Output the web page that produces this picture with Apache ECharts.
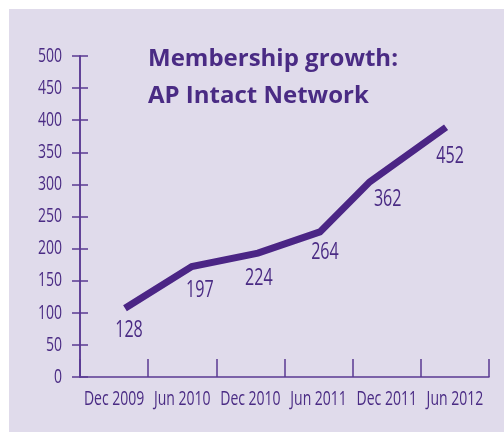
<!DOCTYPE html>
<html>
<head>
<meta charset="utf-8">
<script src="https://cdn.jsdelivr.net/npm/echarts@6/dist/echarts.min.js"></script>
<style>
html,body{margin:0;padding:0;background:#ffffff;}
#chart{width:504px;height:432px;}
</style>
</head>
<body>
<div id="chart"></div>
<script>
// ---- data ----
const categories = ['Dec 2009', 'Jun 2010', 'Dec 2010', 'Jun 2011', 'Dec 2011', 'Jun 2012'];
// line vertex positions along the time axis, in category units from the left axis
const timePos = [0.66, 1.64, 2.61, 3.52, 4.25, 5.37];
// plotted heights as read against the y scale
const plotted = [107, 172, 193, 226, 304, 389];
// numbers printed next to the vertices
const printed = ['128', '197', '224', '264', '362', '452'];
const yTicks = [0, 50, 100, 150, 200, 250, 300, 350, 400, 450, 500];

// ---- styling ----
const PURPLE = '#4b2585';
const TEXT = '#4a2b84';
const AXIS = '#5a3a93';
const BG = '#e0dbeb';
const FONT = "'Open Sans', 'Noto Sans', sans-serif";
const SQUEEZE = 0.7;           // horizontal condensing of the narrow labels
const labelNudge = [[4, 22], [8, 24], [1, 25], [5, 21], [18, 18], [4, 29]];

const chart = echarts.init(document.getElementById('chart'), null, {renderer: 'canvas'});

const bgRect = {
  type: 'rect', z: -10, silent: true,
  shape: {x: 9, y: 9, width: 495, height: 423},
  style: {fill: BG}
};

chart.setOption({
  animation: false,
  backgroundColor: '#ffffff',
  graphic: [bgRect],
  title: {
    text: 'Membership growth:\nAP Intact Network',
    left: 148, top: 41, padding: 0,
    textStyle: {
      fontFamily: FONT, fontWeight: 'bold',
      fontSize: 24, lineHeight: 37, color: TEXT
    }
  },
  grid: {left: 80, right: 15, top: 56, bottom: 55, containLabel: false},
  xAxis: [{
    type: 'category',
    data: categories,
    boundaryGap: true,
    axisLine: {show: true, lineStyle: {color: AXIS, width: 1.5}},
    axisTick: {show: true, inside: true, length: 18, alignWithLabel: false, lineStyle: {color: AXIS, width: 1.5}},
    axisLabel: {show: false, interval: 0},
    splitLine: {show: false}
  }, {
    type: 'value', min: 0, max: categories.length, show: false
  }],
  yAxis: [{
    type: 'value', min: yTicks[0], max: yTicks[yTicks.length - 1], interval: 50,
    axisLine: {show: true, lineStyle: {color: AXIS, width: 1.5}},
    axisTick: {show: true, length: 8, lineStyle: {color: AXIS, width: 1.5}},
    axisLabel: {show: false},
    splitLine: {show: false}
  }, {
    type: 'value', min: yTicks[0], max: yTicks[yTicks.length - 1], interval: 50,
    position: 'left', offset: 0,
    axisLine: {show: true, lineStyle: {color: AXIS, width: 1.5}},
    axisTick: {show: true, inside: true, length: 8, lineStyle: {color: AXIS, width: 1.5}},
    axisLabel: {show: false},
    splitLine: {show: false}
  }],
  series: [{
    type: 'line',
    xAxisIndex: 1, yAxisIndex: 0,
    data: plotted.map((v, i) => [timePos[i], v]),
    symbol: 'none',
    lineStyle: {color: PURPLE, width: 7, cap: 'butt', join: 'miter'}
  }]
});

// condensed labels, placed through the chart's own scales
function narrowText(text, x, y, size, align) {
  return {
    type: 'text', x: x, y: y, scaleX: SQUEEZE, scaleY: 1, silent: true, z: 10,
    style: {
      text: text, x: 0, y: 0, fill: TEXT, font: size + 'px ' + FONT,
      align: align, verticalAlign: 'middle'
    }
  };
}

const g = [bgRect];
const axisY = chart.convertToPixel({yAxisIndex: 0}, 0);
const axisX = chart.convertToPixel({xAxisIndex: 0}, categories[0]) -
  (chart.convertToPixel({xAxisIndex: 0}, categories[1]) - chart.convertToPixel({xAxisIndex: 0}, categories[0])) / 2;

yTicks.forEach(t => {
  g.push(narrowText(String(t), axisX - 18, chart.convertToPixel({yAxisIndex: 0}, t), 20, 'right'));
});
categories.forEach(c => {
  g.push(narrowText(c, chart.convertToPixel({xAxisIndex: 0}, c), axisY + 22, 20, 'center'));
});
plotted.forEach((v, i) => {
  const p = chart.convertToPixel({seriesIndex: 0}, [timePos[i], v]);
  g.push(narrowText(printed[i], p[0] + labelNudge[i][0], p[1] + labelNudge[i][1], 23, 'center'));
});

chart.setOption({graphic: g});
</script>
</body>
</html>
